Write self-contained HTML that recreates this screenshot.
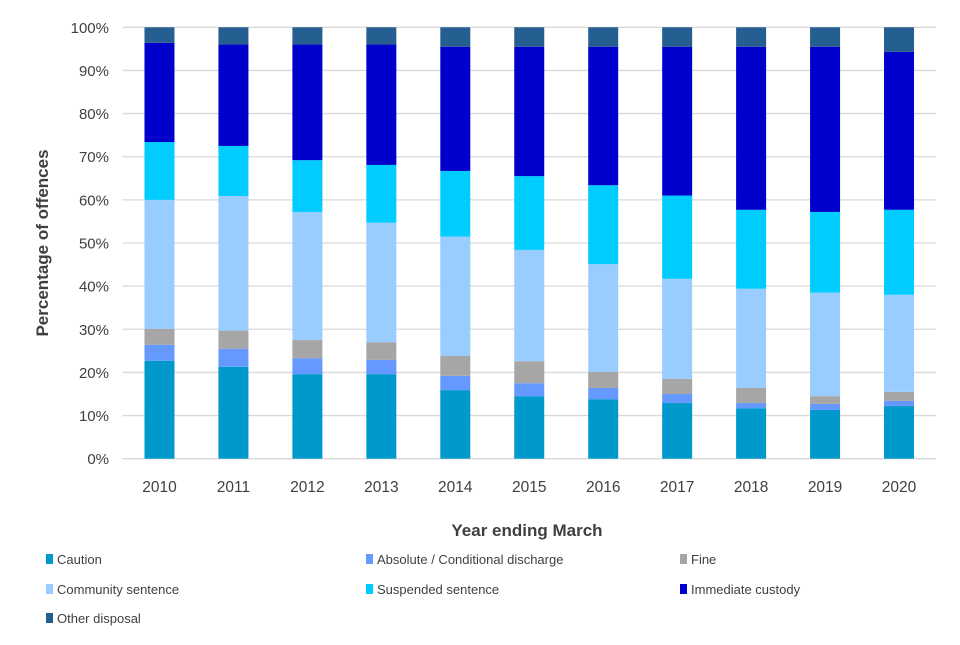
<!DOCTYPE html>
<html><head><meta charset="utf-8"><style>
body{margin:0;background:#fff;font-family:"Liberation Sans",sans-serif;}
svg text{font-family:"Liberation Sans",sans-serif;}
</style></head><body>
<svg id="chart" width="960" height="640" xmlns="http://www.w3.org/2000/svg">
<g id="grid"></g><g id="bars"></g><g id="axes"></g><g id="legend"></g>
</svg>
<script>
const years=["2010","2011","2012","2013","2014","2015","2016","2017","2018","2019","2020"];
const seriesNames=["Caution","Absolute / Conditional discharge","Fine","Community sentence","Suspended sentence","Immediate custody","Other disposal"];
const seriesColors=["#0099cc","#6699ff","#a6a6a6","#99ccff","#00ccff","#0000cc","#255e91"];
// cumulative tops (%)
const caution=[22.7,21.3,19.6,19.6,15.9,14.5,13.8,12.9,11.7,11.3,12.2];
const discharge=[3.7,4.2,3.7,3.3,3.3,3.0,2.6,2.1,1.2,1.4,1.2];
const fine=[3.7,4.2,4.2,4.1,4.6,5.1,3.7,3.5,3.5,1.8,2.1];
const community=[29.9,31.2,29.7,27.7,27.7,25.8,25.0,23.2,23.0,24.0,22.5];
const suspended=[13.4,11.6,12.0,13.4,15.2,17.1,18.3,19.3,18.3,18.7,19.7];
const custody=[23.0,23.5,26.8,27.9,28.8,30.0,32.1,34.5,37.8,38.3,36.6];
const other=[3.6,4.0,4.0,4.0,4.5,4.5,4.5,4.5,4.5,4.5,5.7];
const yTicks=[0,10,20,30,40,50,60,70,80,90,100];
const series=[caution,discharge,fine,community,suspended,custody,other];
const NS="http://www.w3.org/2000/svg";
const x0=122.5,x1=936,y0=458.7,y1=27.3;
const band=(x1-x0)/years.length;
const yS=v=>y0-(v/100)*(y0-y1);
const xC=i=>x0+band*(i+0.5);
function mk(t,a,p){const e=document.createElementNS(NS,t);for(const k in a)e.setAttribute(k,a[k]);p.appendChild(e);return e;}
const grid=document.getElementById('grid'),bars=document.getElementById('bars'),axes=document.getElementById('axes'),leg=document.getElementById('legend');
yTicks.forEach(t=>{
  const l=mk('line',{x1:x0,x2:x1,y1:yS(t),y2:yS(t),stroke:'#d9d9d9','stroke-width':1.3},grid);
  
  
  const tx=mk('text',{x:109,y:yS(t)+5.5,'text-anchor':'end','font-size':15,fill:'#404040'},axes);
  tx.textContent=t+'%';
  
  
});
years.forEach((yr,i)=>{
  let cum=0;
  series.forEach((s,j)=>{
    const v=s[i];
    const r=mk('rect',{x:xC(i)-15,width:30,y:yS(cum+v),height:yS(cum)-yS(cum+v),fill:seriesColors[j]},bars);
    
    
    cum+=v;
  });
  const tx=mk('text',{x:xC(i),y:492,'text-anchor':'middle','font-size':15.5,fill:'#404040'},axes);
  tx.textContent=yr;
  
  
});
const xt=mk('text',{x:527,y:536,'text-anchor':'middle','font-size':17,'font-weight':'bold',fill:'#404040'},axes);
xt.textContent='Year ending March';


const yt=mk('text',{x:0,y:0,'text-anchor':'middle','font-size':17,'font-weight':'bold',fill:'#404040',transform:'translate(48,243) rotate(-90)'},axes);
yt.textContent='Percentage of offences';


const lx=[46,366,680],ly=[559,589,618];
seriesNames.forEach((n,j)=>{
  const cx=lx[j%3],cy=ly[Math.floor(j/3)];
  const g=mk('g',{},leg);
  
  
  mk('rect',{x:cx,y:cy-5,width:7,height:10,fill:seriesColors[j]},g);
  const t=mk('text',{x:cx+11,y:cy+5,'font-size':13,fill:'#404040'},g);
  t.textContent=n;
});
</script>
</body></html>
